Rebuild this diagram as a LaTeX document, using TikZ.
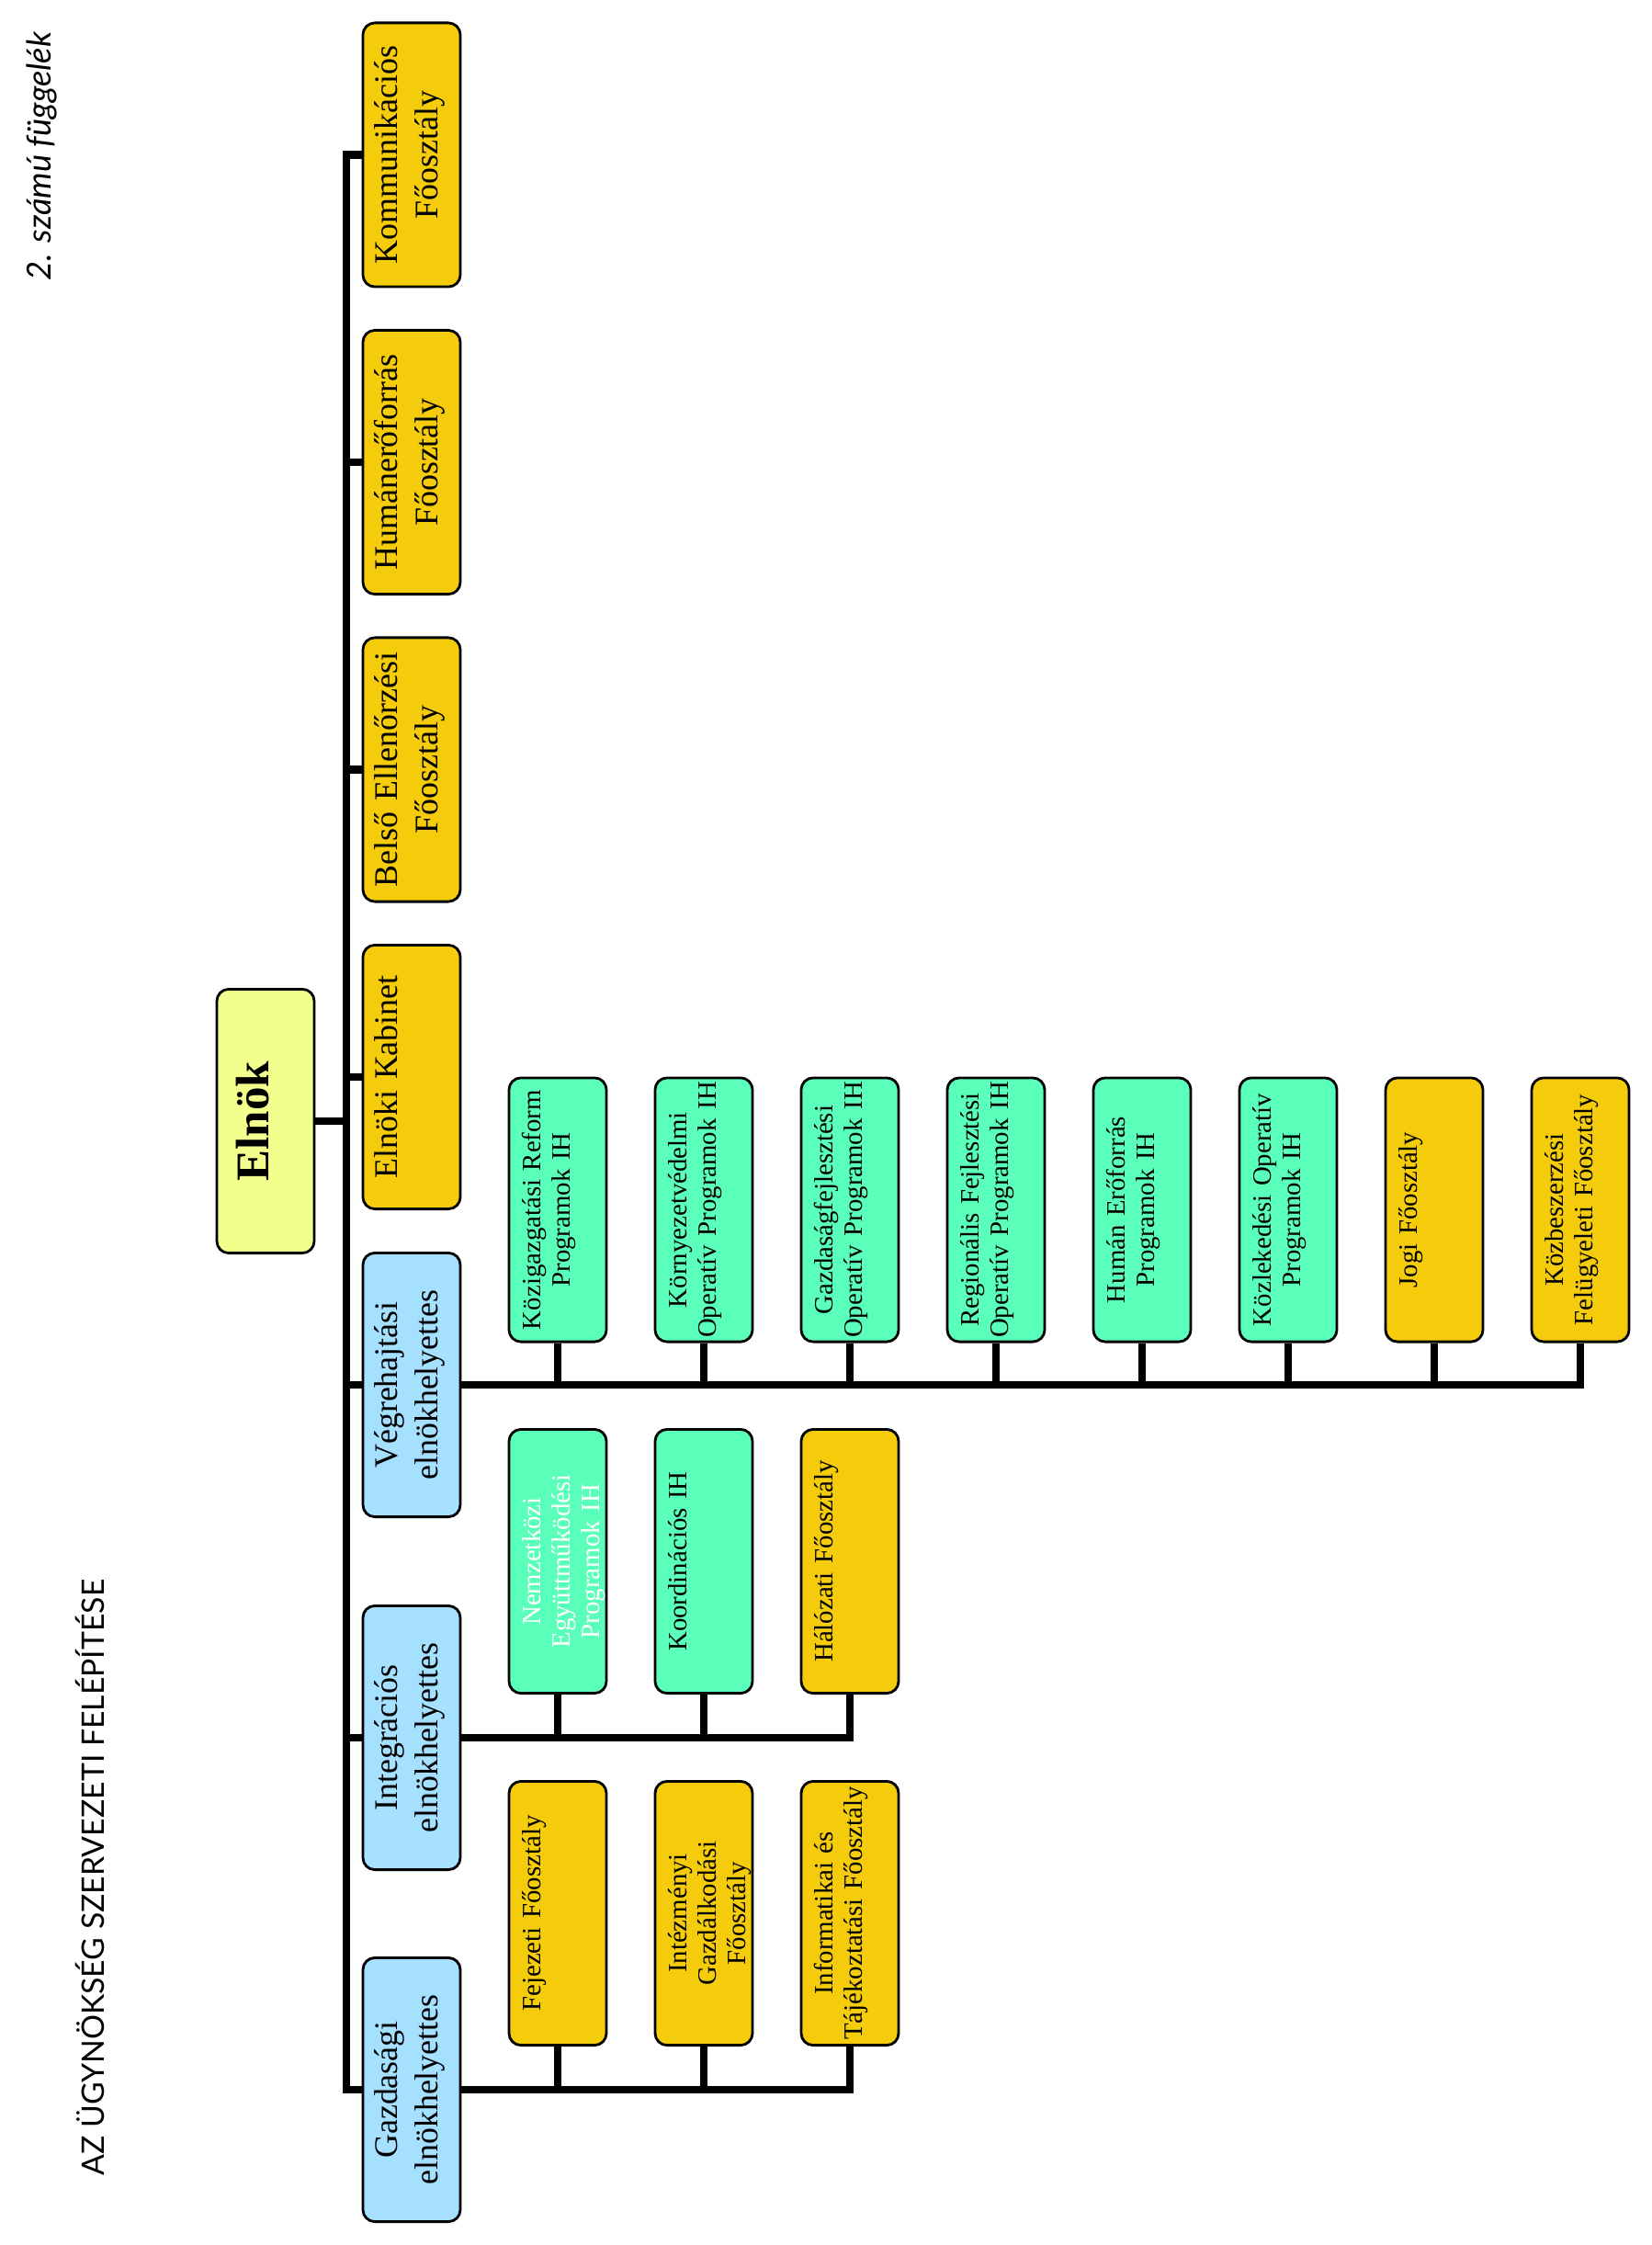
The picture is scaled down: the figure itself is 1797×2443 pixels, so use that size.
\documentclass[tikz,border=0pt]{standalone}
\usepackage{fontspec}
\setmainfont{Liberation Serif}
\newfontfamily\lato{Lato}
\definecolor{fogold}{RGB}{244,204,12}
\definecolor{elnokyellow}{RGB}{243,255,140}
\definecolor{helyblue}{RGB}{166,224,255}
\definecolor{ihgreen}{RGB}{90,255,186}
\begin{document}
\begin{tikzpicture}[x=0.01cm,y=-0.01cm,
  box/.style={draw,line width=0.8pt,rounded corners=0.13cm,rotate=90,minimum width=2.87cm,text width=2.8cm,inner xsep=1pt,inner ysep=0pt,align=center},
  top/.style={box,font=\fontsize{10.2}{12.5}\selectfont,text height=0.38cm,text depth=0.68cm},
  sub/.style={box,font=\fontsize{8.2}{9.1}\selectfont,text height=0.34cm,text depth=0.72cm},
  link/.style={line width=2.4pt,line join=miter}]
\useasboundingbox (0,0) rectangle (1797,2443);
\node[rotate=90,anchor=base,font=\lato\itshape\fontsize{10.3}{12}\selectfont] (app) at (55,170) {2. számú függelék};
\node[rotate=90,anchor=base,font=\lato\fontsize{9.6}{11}\selectfont] (title) at (113,2043) {AZ ÜGYNÖKSÉG SZERVEZETI FELÉPÍTÉSE};
\node[box,fill=elnokyellow,font=\fontsize{14.5}{17}\selectfont\bfseries,text height=0.56cm,text depth=0.50cm] (E) at (289,1220) {Elnök};
\node[top,fill=fogold] (K) at (448,168.5) {Kommunikációs\\Főosztály};
\node[top,fill=fogold] (H) at (448,503) {Humánerőforrás\\Főosztály};
\node[top,fill=fogold] (B) at (448,837.5) {Belső Ellenőrzési\\Főosztály};
\node[top,fill=fogold] (EK) at (448,1172) {Elnöki Kabinet};
\node[top,fill=helyblue] (V) at (448,1507) {Végrehajtási\\elnökhelyettes};
\node[top,fill=helyblue] (I) at (448,1891) {Integrációs\\elnökhelyettes};
\node[top,fill=helyblue] (G) at (448,2274) {Gazdasági\\elnökhelyettes};
\node[sub,fill=ihgreen] (V1) at (607,1316.5) {Közigazgatási Reform\\Programok IH};
\node[sub,fill=ihgreen] (V2) at (766,1316.5) {Környezetvédelmi\\Operatív Programok IH};
\node[sub,fill=ihgreen] (V3) at (925,1316.5) {Gazdaságfejlesztési\\Operatív Programok IH};
\node[sub,fill=ihgreen] (V4) at (1084,1316.5) {Regionális Fejlesztési\\Operatív Programok IH};
\node[sub,fill=ihgreen] (V5) at (1243,1316.5) {Humán Erőforrás\\Programok IH};
\node[sub,fill=ihgreen] (V6) at (1402,1316.5) {Közlekedési Operatív\\Programok IH};
\node[sub,fill=fogold] (V7) at (1561,1316.5) {Jogi Főosztály};
\node[sub,fill=fogold] (V8) at (1720,1316.5) {Közbeszerzési\\Felügyeleti Főosztály};
\node[sub,fill=ihgreen,text=white] (I1) at (607,1699) {Nemzetközi\\Együttműködési\\Programok IH};
\node[sub,fill=ihgreen] (I2) at (766,1699) {Koordinációs IH};
\node[sub,fill=fogold] (I3) at (925,1699) {Hálózati Főosztály};
\node[sub,fill=fogold] (G1) at (607,2082) {Fejezeti Főosztály};
\node[sub,fill=fogold] (G2) at (766,2082) {Intézményi\\Gazdálkodási\\Főosztály};
\node[sub,fill=fogold] (G3) at (925,2082) {Informatikai és\\Tájékoztatási Főosztály};
\coordinate (T) at (377,168.5);
\draw[link] (K.north) -- (K.north -| T) -- (G.north -| T) -- (G.north);
\draw[link] (H.north) -- (H.north -| T);
\draw[link] (B.north) -- (B.north -| T);
\draw[link] (EK.north) -- (EK.north -| T);
\draw[link] (V.north) -- (V.north -| T);
\draw[link] (I.north) -- (I.north -| T);
\draw[link] (E.south) -- (E.south -| T);
\draw[link] (V.south) -- (V8.west |- V.south) -- (V8.west);
\draw[link] (V1.west) -- (V1.west |- V.south);
\draw[link] (V2.west) -- (V2.west |- V.south);
\draw[link] (V3.west) -- (V3.west |- V.south);
\draw[link] (V4.west) -- (V4.west |- V.south);
\draw[link] (V5.west) -- (V5.west |- V.south);
\draw[link] (V6.west) -- (V6.west |- V.south);
\draw[link] (V7.west) -- (V7.west |- V.south);
\draw[link] (I.south) -- (I3.west |- I.south) -- (I3.west);
\draw[link] (I1.west) -- (I1.west |- I.south);
\draw[link] (I2.west) -- (I2.west |- I.south);
\draw[link] (G.south) -- (G3.west |- G.south) -- (G3.west);
\draw[link] (G1.west) -- (G1.west |- G.south);
\draw[link] (G2.west) -- (G2.west |- G.south);
\end{tikzpicture}
\end{document}
